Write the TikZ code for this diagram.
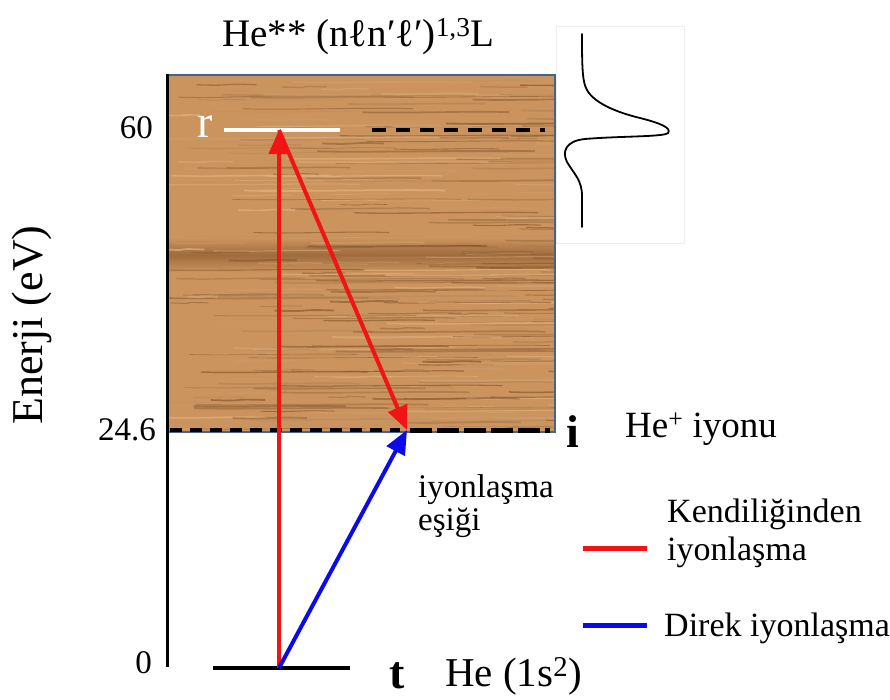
\documentclass[tikz,border=0pt]{standalone}
\usepackage{fontspec}
\setmainfont{Liberation Serif}
\newfontfamily\tnr{Liberation Serif}
\usetikzlibrary{arrows.meta}
\definecolor{woodbase}{RGB}{203,148,94}
\definecolor{woodlight}{RGB}{230,185,133}
\definecolor{wooddark}{RGB}{125,76,35}
\definecolor{boxedge}{RGB}{70,100,135}
\definecolor{arred}{RGB}{240,20,20}
\definecolor{arblue}{RGB}{10,10,235}
\tikzset{
  txt/.style={inner sep=0pt, font=\tnr\fontsize{33}{36}\selectfont},
  bigtxt/.style={inner sep=0pt, font=\tnr\fontsize{41}{44}\selectfont},
  lvlmark/.style={inner sep=0pt, font=\tnr\fontsize{46}{48}\selectfont\bfseries},
  level/.style={line width=4pt, black},
  dashlvl/.style={line width=4pt, black, dash pattern=on 14pt off 10pt},
  redarrow/.style={line width=4pt, arred, -{Triangle[length=24pt,width=20pt]}},
  bluearrow/.style={line width=4pt, arblue, -{Triangle[length=24pt,width=20pt]}},
  legline/.style={line width=5pt},
}
\begin{document}
\begin{tikzpicture}[x=1pt,y=-1pt]
\useasboundingbox (0,0) rectangle (890,699);
\fill[white] (0,0) rectangle (890,699);

% wood box
\begin{scope}
\clip (167,75) rectangle (555,431);
\fill[woodbase] (167,75) rectangle (555,431);
\shade[top color=woodbase, bottom color=woodbase, middle color=wooddark!70!woodbase, opacity=0.8] (167,238) rectangle (555,272);
\pgfmathsetseed{17}
\foreach \i in {1,...,300}{
  \pgfmathsetmacro{\yy}{77+352*rnd}
  \pgfmathsetmacro{\xa}{150+400*rnd}
  \pgfmathsetmacro{\xb}{\xa+30+220*rnd}
  \pgfmathtruncatemacro{\cc}{100*rnd}
  \pgfmathsetmacro{\ww}{0.5+1.4*rnd}
  \draw[line width=\ww pt, wooddark!\cc!woodlight, opacity=0.6]
     (\xa,\yy) .. controls (\xa+40,\yy+1.5) and (\xb-40,\yy-1.5) .. (\xb,\yy);
}
\end{scope}
\draw[boxedge, line width=2.5pt] (167,75) -- (555,75) -- (555,432) -- (167,432);

% axis
\draw[black, line width=3pt] (167,74) -- (167,667);

% levels
\coordinate (t0) at (279,668);
\coordinate (r0) at (279,130);
\coordinate (i0) at (407,430);
\draw[level] (213,668) -- (350,668);
\draw[white, line width=4pt] (224,130) -- (340,130);
\draw[dashlvl] (372,130) -- (545,130);
\draw[black, line width=3.5pt, dash pattern=on 12pt off 8pt] (170,430) -- (400,430);
\draw[black, line width=5pt, dash pattern=on 22pt off 5pt] (410,430) -- (550,430);

% arrows
\draw[redarrow] (t0) -- (r0);
\draw[redarrow] (r0) -- (i0);
\draw[bluearrow] (t0) -- (i0);

% resonance profile
\draw[black!7, line width=0.8pt] (556,26) rectangle (684,243);
\draw[black, line width=1.8pt, line cap=round]
  (582,34) .. controls (582,60) and (582,80) .. (586,88)
  .. controls (592,102) and (615,112) .. (640,118)
  .. controls (660,123) and (672,128) .. (668,133)
  .. controls (664,137) and (620,136) .. (585,139)
  .. controls (565,141) and (562,152) .. (567,162)
  .. controls (574,174) and (582,180) .. (582,196)
  -- (582,227);

% axis labels
\node[txt, anchor=east] (lab60) at (153,128) {60};
\node[txt, anchor=east] (lab246) at (156,430) {24.6};
\node[txt, anchor=east] (lab0) at (152,663) {0};
\node[inner sep=0pt, font=\tnr\fontsize{44}{46}\selectfont, rotate=90] (enerji) at (32,325) {Enerji (eV)};

% texts
\node[inner sep=0pt, anchor=base west, font=\tnr\fontsize{39}{42}\selectfont] (title) at (222,46) {He** (nℓn′ℓ′)\textsuperscript{1,3}L};
\node[inner sep=0pt, anchor=base west, font=\tnr\fontsize{46}{48}\selectfont, text=white] (rlab) at (197,137) {r};
\node[lvlmark, anchor=base west] (tlab) at (389,688) {t};
\node[bigtxt, anchor=base west] (he1s) at (445,686) {He (1s\textsuperscript{2})};
\node[lvlmark, anchor=base west] (ilab) at (566,447) {i};
\node[inner sep=0pt, anchor=base west, font=\tnr\fontsize{37}{40}\selectfont] (hep) at (625,437) {He\textsuperscript{+} iyonu};
\node[txt, anchor=base west] (thr1) at (418,497) {iyonlaşma};
\node[txt, anchor=base west] (thr2) at (418,530) {eşiği};

% legend
\draw[arred, legline] (583,548) -- (647,548);
\draw[arblue, legline] (583,625) -- (647,625);
\node[inner sep=0pt, anchor=base west, font=\tnr\fontsize{34}{37}\selectfont] (leg1a) at (667,522) {Kendiliğinden};
\node[inner sep=0pt, anchor=base west, font=\tnr\fontsize{34}{37}\selectfont] (leg1b) at (667,560) {iyonlaşma};
\node[inner sep=0pt, anchor=base west, font=\tnr\fontsize{34}{36}\selectfont] (leg2) at (664,636) {Direk iyonlaşma};
\end{tikzpicture}
\end{document}
